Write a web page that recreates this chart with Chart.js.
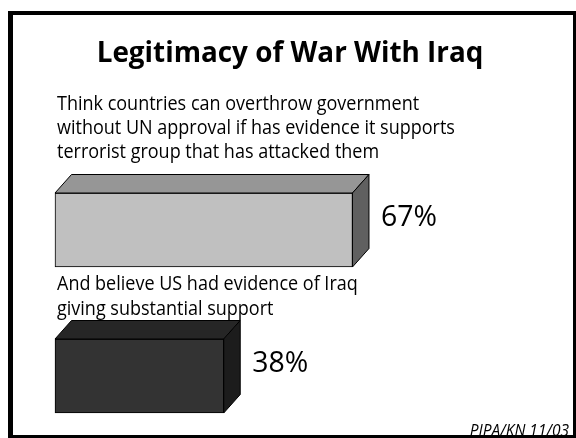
<!DOCTYPE html>
<html>
<head>
<meta charset="utf-8">
<script src="https://cdn.jsdelivr.net/npm/chart.js@4/dist/chart.umd.min.js"></script>
<style>
  html, body { margin: 0; padding: 0; background: #ffffff; }
  #wrap { position: relative; width: 576px; height: 438px; }
</style>
</head>
<body>
<div id="wrap"><canvas id="c" width="576" height="438"></canvas></div>
<script>
// Survey items, each wrapped onto the lines it is printed on
const questionLines = [
  ["Think countries can overthrow government",
   "without UN approval if has evidence it supports",
   "terrorist group that has attacked them"],
  ["And believe US had evidence of Iraq",
   "giving substantial support"]
];
const categories = questionLines.map(l => l.join(" "));
const percentValues = [67, 38];
const valueLabels = percentValues.map(v => v + "%");
const titleText = "Legitimacy of War With Iraq";
const sourceText = "PIPA/KN 11/03";

// Face colours of each box: front, top, side
const frontColors = ["#c0c0c0", "#333333"];
const topColors = ["#969696", "#262626"];
const sideColors = ["#606060", "#1c1c1c"];

const FONT = '"Open Sans", "Noto Sans", sans-serif';
const DEPTH_X = 16.5, DEPTH_Y = -18.5;

// Text drawn a little narrower than the face's natural width
function narrowText(ctx, text, x, y, squeeze) {
  ctx.save();
  ctx.translate(x, y);
  ctx.scale(squeeze, 1);
  ctx.fillText(text, 0, 0);
  ctx.restore();
}

// Draws the top and side faces of each bar so it reads as a block
const boxFaces = {
  id: 'boxFaces',
  afterDatasetsDraw(chart) {
    const ctx = chart.ctx;
    const meta = chart.getDatasetMeta(0);
    ctx.save();
    ctx.lineWidth = 1;
    ctx.strokeStyle = "#000000";
    ctx.lineJoin = "miter";
    meta.data.forEach((bar, i) => {
      const p = bar.getProps(['x', 'y', 'base', 'height'], true);
      const x0 = p.base, x1 = p.x;
      const top = p.y - p.height / 2, bottom = p.y + p.height / 2;
      // top face
      ctx.beginPath();
      ctx.moveTo(x0, top);
      ctx.lineTo(x0 + DEPTH_X, top + DEPTH_Y);
      ctx.lineTo(x1 + DEPTH_X, top + DEPTH_Y);
      ctx.lineTo(x1, top);
      ctx.closePath();
      ctx.fillStyle = topColors[i];
      ctx.fill();
      ctx.stroke();
      // side face
      ctx.beginPath();
      ctx.moveTo(x1, top);
      ctx.lineTo(x1 + DEPTH_X, top + DEPTH_Y);
      ctx.lineTo(x1 + DEPTH_X, bottom + DEPTH_Y);
      ctx.lineTo(x1, bottom);
      ctx.closePath();
      ctx.fillStyle = sideColors[i];
      ctx.fill();
      ctx.stroke();
      // value label beside the block
      ctx.fillStyle = "#000000";
      ctx.font = '500 29px ' + FONT;
      ctx.textAlign = "left";
      ctx.textBaseline = "alphabetic";
      narrowText(ctx, valueLabels[i], x1 + DEPTH_X + 12, p.y - 4, 0.98);
    });
    ctx.restore();
  }
};

// Title, item wording, source note and the frame round the slide
const slideText = {
  id: 'slideText',
  afterDraw(chart) {
    const ctx = chart.ctx;
    ctx.save();
    ctx.fillStyle = "#000000";
    ctx.textBaseline = "alphabetic";

    ctx.font = 'bold 29px ' + FONT;
    ctx.textAlign = "center";
    narrowText(ctx, titleText, 290, 62, 0.96);

    ctx.font = '20px ' + FONT;
    ctx.textAlign = "left";
    const baselines = [[110, 134, 158], [290, 315]];
    questionLines.forEach((lines, i) => {
      lines.forEach((line, j) => narrowText(ctx, line, 57, baselines[i][j], 0.9));
    });

    ctx.font = 'italic 16px ' + FONT;
    ctx.textAlign = "right";
    narrowText(ctx, sourceText, 569, 436, 0.97);

    ctx.fillRect(8, 11, 568, 4);
    ctx.fillRect(8, 11, 5, 427);
    ctx.fillRect(573, 11, 3, 427);
    ctx.fillRect(8, 435, 568, 3);
    ctx.restore();
  }
};

new Chart(document.getElementById('c'), {
  type: 'bar',
  data: {
    labels: categories,
    datasets: [{
      data: percentValues,
      backgroundColor: frontColors,
      borderColor: "#000000",
      borderWidth: 1,
      borderSkipped: false,
      barThickness: 74,
      clip: false
    }]
  },
  options: {
    indexAxis: 'y',
    responsive: false,
    animation: false,
    events: [],
    layout: { padding: { left: 55, right: 77, top: 230, bottom: 62 } },
    scales: {
      x: { min: 0, max: 100, display: false },
      y: { offset: false, display: false }
    },
    plugins: {
      legend: { display: false },
      tooltip: { enabled: false },
      title: { display: false }
    }
  },
  plugins: [boxFaces, slideText]
});
</script>
</body>
</html>
